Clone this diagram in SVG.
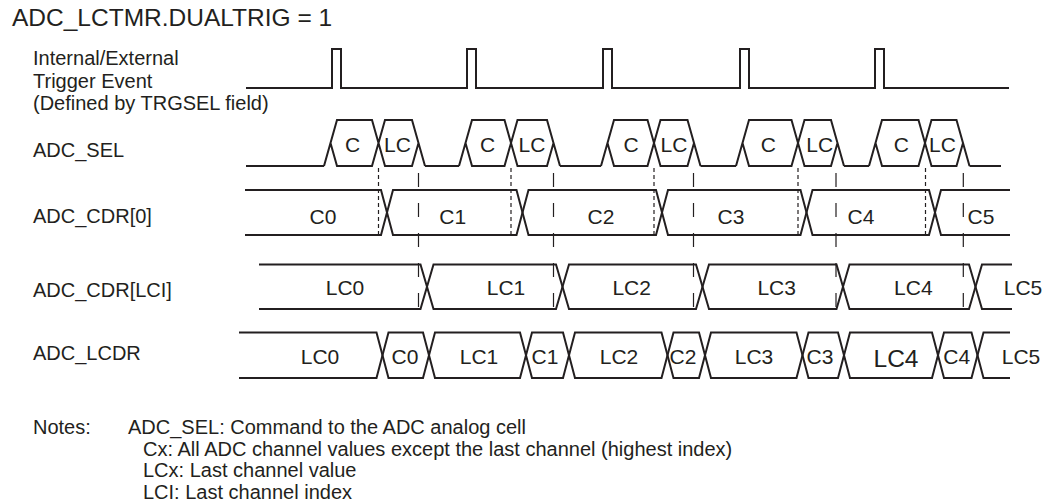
<svg xmlns="http://www.w3.org/2000/svg" width="1047" height="502" viewBox="0 0 1047 502">
<style>
.w{fill:none;stroke:#231f20;stroke-width:2;stroke-linejoin:miter}
.sd{fill:none;stroke:#231f20;stroke-width:1.2;stroke-dasharray:4 3}
.ld{fill:none;stroke:#231f20;stroke-width:1.2;stroke-dasharray:14 16}
text{font-family:"Liberation Sans",Arial,Helvetica,sans-serif;fill:#231f20}
.t{font-size:24.5px}
.l{font-size:20px}
.v{font-size:21px;text-anchor:middle}
.n{font-size:20px}
</style>
<rect width="1047" height="502" fill="#ffffff"/>
<text class="t" x="12" y="26">ADC_LCTMR.DUALTRIG = 1</text>

<g id="trigger">
<text class="l" x="33" y="65">Internal/External</text>
<text class="l" x="33" y="87.5">Trigger Event</text>
<text class="l" x="33" y="110">(Defined by TRGSEL field)</text>
<path class="w" d="M246,88 H332 V49 H341 V88 H467 V49 H476 V88 H603 V49 H612 V88 H740 V49 H749 V88 H875 V49 H884 V88 H1009"/>
</g>

<g id="adc_sel">
<text class="l" x="33" y="157">ADC_SEL</text>
<path class="w" d="M246,166 H324 M425,166 H459 M560,166 H601 M700.5,166 H736 M844,166 H869 M969.5,166 H1001"/>
<path class="w" d="M324,166 L337,120 H372 L385,166 H412 L418.5,143 M330.5,143 L337,166 H372 L385,120 H412 L425,166"/>
<path class="w" d="M459,166 L472,120 H504.5 L517.5,166 H547 L553.5,143 M465.5,143 L472,166 H504.5 L517.5,120 H547 L560,166"/>
<path class="w" d="M601,166 L614,120 H647.5 L660.5,166 H687.5 L694,143 M607.5,143 L614,166 H647.5 L660.5,120 H687.5 L700.5,166"/>
<path class="w" d="M736,166 L749,120 H791.5 L804.5,166 H831 L837.5,143 M742.5,143 L749,166 H791.5 L804.5,120 H831 L844,166"/>
<path class="w" d="M869,166 L882,120 H918.5 L931.5,166 H956.5 L963,143 M875.5,143 L882,166 H918.5 L931.5,120 H956.5 L969.5,166"/>
<text class="v" x="352.5" y="151.5">C</text>
<text class="v" x="397.5" y="151.5">LC</text>
<text class="v" x="487.5" y="151.5">C</text>
<text class="v" x="532" y="151.5">LC</text>
<text class="v" x="631" y="151.5">C</text>
<text class="v" x="674" y="151.5">LC</text>
<text class="v" x="768.3" y="151.5">C</text>
<text class="v" x="819.7" y="151.5">LC</text>
<text class="v" x="901.3" y="151.5">C</text>
<text class="v" x="942.5" y="151.5">LC</text>
</g>

<g id="adc_cdr0">
<text class="l" x="33" y="223">ADC_CDR[0]</text>
<path class="w" d="M245,190 H381 L393,235 H516.5 L528.5,190 H656 L668,235 H800.5 L812.5,190 H929 L941,235 H1010"/>
<path class="w" d="M245,235 H381 L393,190 H516.5 L528.5,235 H656 L668,190 H800.5 L812.5,235 H929 L941,190 H1010"/>
<text class="v" x="323" y="224">C0</text>
<text class="v" x="452.7" y="224">C1</text>
<text class="v" x="601" y="224">C2</text>
<text class="v" x="731" y="224">C3</text>
<text class="v" x="861" y="224">C4</text>
<text class="v" x="981" y="224">C5</text>
</g>

<g id="adc_cdr_lci">
<text class="l" x="33" y="296.5">ADC_CDR[LCI]</text>
<path class="w" d="M259,264.5 H420.5 L433.5,309 H556 L569,264.5 H696 L709,309 H836.5 L849.5,264.5 H969 L982,309 H1012"/>
<path class="w" d="M259,309 H420.5 L433.5,264.5 H556 L569,309 H696 L709,264.5 H836.5 L849.5,309 H969 L982,264.5 H1012"/>
<text class="v" x="345" y="295">LC0</text>
<text class="v" x="506" y="295">LC1</text>
<text class="v" x="631.7" y="295">LC2</text>
<text class="v" x="776.7" y="295">LC3</text>
<text class="v" x="913.3" y="295">LC4</text>
<text class="v" x="1023" y="295">LC5</text>
</g>

<g id="adc_lcdr">
<text class="l" x="33" y="360">ADC_LCDR</text>
<path class="w" d="M239,332.5 H376.5 L388.5,378 H423 L435,332.5 H520 L532,378 H563 L575,332.5 H661.5 L673.5,378 H699 L711,332.5 H796.5 L808.5,378 H838 L850,332.5 H932 L944,378 H971.5 L983.5,332.5 H1010"/>
<path class="w" d="M239,378 H376.5 L388.5,332.5 H423 L435,378 H520 L532,332.5 H563 L575,378 H661.5 L673.5,332.5 H699 L711,378 H796.5 L808.5,332.5 H838 L850,378 H932 L944,332.5 H971.5 L983.5,378 H1010"/>
<text class="v" x="320" y="363.5">LC0</text>
<text class="v" x="405" y="363.5">C0</text>
<text class="v" x="479" y="363.5">LC1</text>
<text class="v" x="545" y="363.5">C1</text>
<text class="v" x="619" y="363.5">LC2</text>
<text class="v" x="683" y="363.5">C2</text>
<text class="v" x="754" y="363.5">LC3</text>
<text class="v" x="820" y="363.5">C3</text>
<text class="v" x="896" y="366.5" style="font-size:24.5px">LC4</text>
<text class="v" x="956.7" y="363.5">C4</text>
<text class="v" x="1021" y="363.5">LC5</text>
</g>

<g id="connectors">
<path class="sd" d="M378.5,168 V236 M511,168 V236 M654,168 V236 M798,168 V236 M925.5,168 V236"/>
<path class="ld" d="M418.5,173 V308 M553.5,173 V308 M693.5,173 V308 M836,173 V308 M963.3,173 V308"/>
</g>

<g id="notes">
<text class="n" x="33" y="434">Notes:</text>
<text class="n" x="128" y="434">ADC_SEL: Command to the ADC analog cell</text>
<text class="n" x="143" y="455.5">Cx: All ADC channel values except the last channel (highest index)</text>
<text class="n" x="143" y="477">LCx: Last channel value</text>
<text class="n" x="143" y="498.5">LCI: Last channel index</text>
</g>
</svg>
